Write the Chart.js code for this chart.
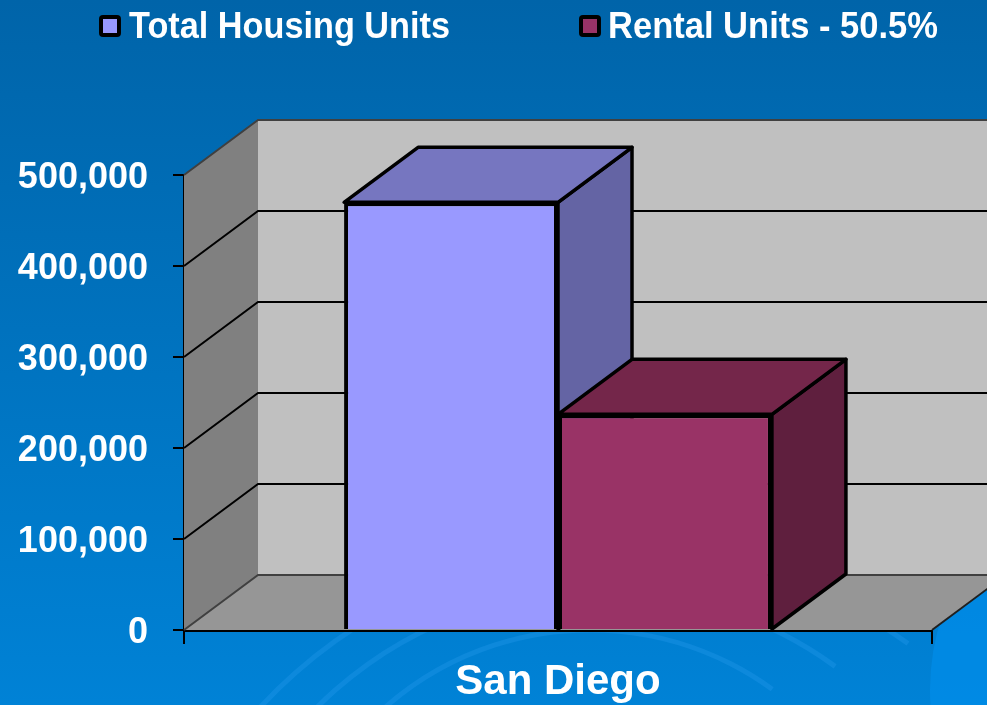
<!DOCTYPE html>
<html>
<head>
<meta charset="utf-8">
<script src="https://cdn.jsdelivr.net/npm/chart.js@4/dist/chart.umd.min.js"></script>
<style>
  html, body { margin: 0; padding: 0; background: #0070bb; }
  #wrap { width: 987px; height: 705px; }
</style>
</head>
<body>
<div id="wrap"><canvas id="housing"></canvas></div>
<script>
// ---- data ----
const categories = ["San Diego"];
const totalUnits = [470000];
const rentalUnits = [237000];
const seriesNames = ["Total Housing Units", "Rental Units - 50.5%"];
const yTicks = [0, 100000, 200000, 300000, 400000, 500000];

const FONT = "'Liberation Sans', Arial, sans-serif";
const DX = 74, DY = -55; // 3d depth offset

const FACES = [
  { front: "#9999FF", top: "#7676C0", side: "#6464A4" },
  { front: "#993366", top: "#74264A", side: "#5F1F3E" }
];

function poly(ctx, pts, fill, stroke, lw) {
  ctx.beginPath();
  ctx.moveTo(pts[0][0], pts[0][1]);
  for (let i = 1; i < pts.length; i++) ctx.lineTo(pts[i][0], pts[i][1]);
  ctx.closePath();
  if (fill) { ctx.fillStyle = fill; ctx.fill(); }
  if (stroke) { ctx.strokeStyle = stroke; ctx.lineWidth = lw || 1; ctx.lineJoin = "round"; ctx.stroke(); }
}

const depth3d = {
  id: "depth3d",
  beforeDraw(chart) {
    const { ctx, width, height } = chart;
    ctx.save();
    const g = ctx.createLinearGradient(0, 0, 0, height);
    g.addColorStop(0, "#0064A9");
    g.addColorStop(1, "#0082D6");
    ctx.fillStyle = g;
    ctx.fillRect(0, 0, width, height);
    // faint swirls near the bottom
    ctx.strokeStyle = "rgba(60,170,250,0.22)";
    ctx.lineWidth = 5;
    [[590, 940, 310], [600, 990, 400], [620, 1040, 490]].forEach(([cx, cy, r]) => {
      ctx.beginPath();
      ctx.arc(cx, cy, r, Math.PI * 1.15, Math.PI * 1.7);
      ctx.stroke();
    });
    ctx.fillStyle = "rgba(0,140,232,0.75)";
    ctx.beginPath();
    ctx.ellipse(1100, 690, 170, 200, 0, 0, Math.PI * 2);
    ctx.fill();
    ctx.restore();
  },
  beforeDatasetsDraw(chart) {
    const { ctx, chartArea: a, scales: { y } } = chart;
    ctx.save();
    // back wall, side wall, floor
    poly(ctx, [[a.left + DX, a.top + DY], [a.right + DX, a.top + DY], [a.right + DX, a.bottom + DY], [a.left + DX, a.bottom + DY]], "#C0C0C0");
    poly(ctx, [[a.left, a.top], [a.left + DX, a.top + DY], [a.left + DX, a.bottom + DY], [a.left, a.bottom]], "#808080");
    poly(ctx, [[a.left, a.bottom], [a.right, a.bottom], [a.right + DX, a.bottom + DY], [a.left + DX, a.bottom + DY]], "#969696");
    // gridlines on side and back walls
    ctx.lineWidth = 2;
    y.ticks.forEach(t => {
      const py = y.getPixelForValue(t.value);
      const edge = t.value === 0 || t.value === y.max;
      ctx.strokeStyle = edge ? "#404040" : "#000";
      ctx.beginPath();
      ctx.moveTo(a.left, py);
      ctx.lineTo(a.left + DX, py + DY);
      ctx.lineTo(a.right + DX, py + DY);
      ctx.stroke();
    });
    ctx.strokeStyle = "#202020";
    ctx.beginPath();
    ctx.moveTo(a.right, a.bottom);
    ctx.lineTo(a.right + DX, a.bottom + DY);
    ctx.stroke();
    // bar tops and sides
    chart.data.datasets.forEach((ds, i) => {
      const meta = chart.getDatasetMeta(i);
      meta.data.forEach(el => {
        const l = el.x - el.width / 2, r = el.x + el.width / 2, t = el.y, b = el.base;
        poly(ctx, [[r, t], [r + DX, t + DY], [r + DX, b + DY], [r, b]], FACES[i].side, "#000", 3.5);
        poly(ctx, [[l, t], [r, t], [r + DX, t + DY], [l + DX, t + DY]], FACES[i].top, "#000", 3.5);
      });
    });
    ctx.restore();
  },
  afterDraw(chart) {
    const { ctx } = chart;
    const items = [
      { box: 99, text: 129, w: 321 },
      { box: 579, text: 608, w: 330 }
    ];
    ctx.save();
    chart.data.datasets.forEach((ds, i) => {
      const it = items[i];
      ctx.fillStyle = "#000";
      ctx.beginPath();
      ctx.roundRect(it.box, 15, 22, 22, 4);
      ctx.fill();
      ctx.fillStyle = ds.backgroundColor;
      ctx.fillRect(it.box + 4, 19, 14, 14);
      ctx.fillStyle = "#fff";
      ctx.font = "bold 36px " + FONT;
      ctx.textBaseline = "alphabetic";
      ctx.fillText(ds.label, it.text, 38, it.w);
    });
    ctx.restore();
  }
};

new Chart(document.getElementById("housing"), {
  type: "bar",
  data: {
    labels: categories,
    datasets: [
      { label: seriesNames[0], data: totalUnits, backgroundColor: FACES[0].front, borderColor: "#000", borderWidth: 4 },
      { label: seriesNames[1], data: rentalUnits, backgroundColor: FACES[1].front, borderColor: "#000", borderWidth: 4 }
    ]
  },
  options: {
    responsive: true,
    maintainAspectRatio: false,
    animation: false,
    layout: { padding: { top: 175, right: 55, left: 0, bottom: 0 } },
    plugins: {
      legend: { display: false },
      tooltip: { enabled: false }
    },
    datasets: { bar: { categoryPercentage: 0.572, barPercentage: 1 } },
    scales: {
      x: {
        offset: true,
        grid: { offset: true, drawOnChartArea: false, drawTicks: true, tickLength: 14, color: "#000", lineWidth: 2 },
        border: { display: true, color: "#000", width: 3 },
        ticks: { color: "#fff", font: { family: FONT, size: 42, weight: "bold" }, padding: 13 },
        afterFit: s => { s.height = 75; }
      },
      y: {
        min: 0,
        max: 500000,
        afterBuildTicks: s => { s.ticks = yTicks.map(v => ({ value: v })); },
        grid: { drawOnChartArea: false, drawTicks: true, tickLength: 11, color: "#000", lineWidth: 2 },
        border: { display: true, color: "#000", width: 2 },
        ticks: {
          color: "#fff",
          padding: 25,
          labelOffset: 3,
          font: { family: FONT, size: 36, weight: "bold" },
          callback: v => v.toLocaleString("en-US")
        },
        afterFit: s => { s.width = 184; }
      }
    }
  },
  plugins: [depth3d]
});
</script>
</body>
</html>
